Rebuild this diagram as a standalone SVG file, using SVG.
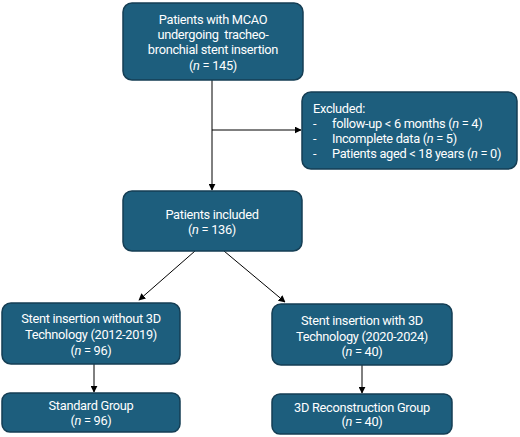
<svg xmlns="http://www.w3.org/2000/svg" width="520" height="437" viewBox="0 0 520 437">
<defs>
<style>
.box{fill:#1d5e7d;stroke:#153e54;stroke-width:1.5}
.t{font-family:Roboto,"Liberation Sans",sans-serif;font-size:12.8px;letter-spacing:-0.3px;fill:#ffffff;text-anchor:middle;white-space:pre}
.l{text-anchor:start}
.ln{stroke:#000;stroke-width:1;fill:none}
</style>
<marker id="ah" viewBox="0 0 10 10" refX="9" refY="5" markerWidth="7" markerHeight="7" orient="auto-start-reverse" markerUnits="userSpaceOnUse">
<path d="M0,0 L10,5 L0,10 z" fill="#000"/>
</marker>
</defs>
<rect width="520" height="437" fill="#ffffff"/>
<g id="connectors">
<line class="ln" x1="212" y1="80" x2="212" y2="190" marker-end="url(#ah)"/>
<line class="ln" x1="212" y1="130" x2="301" y2="130" marker-end="url(#ah)"/>
<line class="ln" x1="195" y1="251" x2="139" y2="300" marker-end="url(#ah)"/>
<line class="ln" x1="224" y1="251" x2="285" y2="302" marker-end="url(#ah)"/>
<line class="ln" x1="94" y1="364" x2="94" y2="392" marker-end="url(#ah)"/>
<line class="ln" x1="362" y1="365" x2="362" y2="393" marker-end="url(#ah)"/>
</g>
<g id="n1">
<rect class="box" x="123" y="3" width="180" height="77" rx="9"/>
<text class="t" x="213" y="23.5">Patients with MCAO</text>
<text class="t" x="213" y="38.5">undergoing  tracheo-</text>
<text class="t" x="213" y="54">bronchial stent insertion</text>
<text class="t" x="213" y="70">(<tspan font-style="italic">n</tspan> = 145)</text>
</g>
<g id="n2">
<rect class="box" x="302" y="92" width="215" height="77" rx="9"/>
<text class="t l" x="313" y="112.5">Excluded:</text>
<text class="t l" x="313" y="127.5">-</text>
<text class="t l" x="332" y="127.5">follow-up &lt; 6 months (<tspan font-style="italic">n</tspan> = 4)</text>
<text class="t l" x="313" y="142.5">-</text>
<text class="t l" x="332" y="142.5">Incomplete data (<tspan font-style="italic">n</tspan> = 5)</text>
<text class="t l" x="313" y="157.5">-</text>
<text class="t l" x="332" y="157.5">Patients aged &lt; 18 years (<tspan font-style="italic">n</tspan> = 0)</text>
</g>
<g id="n3">
<rect class="box" x="123" y="191" width="179" height="60" rx="9"/>
<text class="t" x="212" y="218.5">Patients included</text>
<text class="t" x="212" y="233.5">(<tspan font-style="italic">n</tspan> = 136)</text>
</g>
<g id="n4">
<rect class="box" x="2" y="303" width="178" height="61" rx="9"/>
<text class="t" x="91" y="323">Stent insertion without 3D</text>
<text class="t" x="91" y="339">Technology (2012-2019)</text>
<text class="t" x="91" y="355">(<tspan font-style="italic">n</tspan> = 96)</text>
</g>
<g id="n5">
<rect class="box" x="272" y="304" width="180" height="61" rx="9"/>
<text class="t" x="362" y="325">Stent insertion with 3D</text>
<text class="t" x="362" y="341">Technology (2020-2024)</text>
<text class="t" x="362" y="356">(<tspan font-style="italic">n</tspan> = 40)</text>
</g>
<g id="n6">
<rect class="box" x="2" y="393" width="178" height="39" rx="8"/>
<text class="t" x="91" y="410">Standard Group</text>
<text class="t" x="91" y="425">(<tspan font-style="italic">n</tspan> = 96)</text>
</g>
<g id="n7">
<rect class="box" x="272" y="394" width="180" height="40" rx="8"/>
<text class="t" x="362" y="411.5">3D Reconstruction Group</text>
<text class="t" x="362" y="426">(<tspan font-style="italic">n</tspan> = 40)</text>
</g>
</svg>
